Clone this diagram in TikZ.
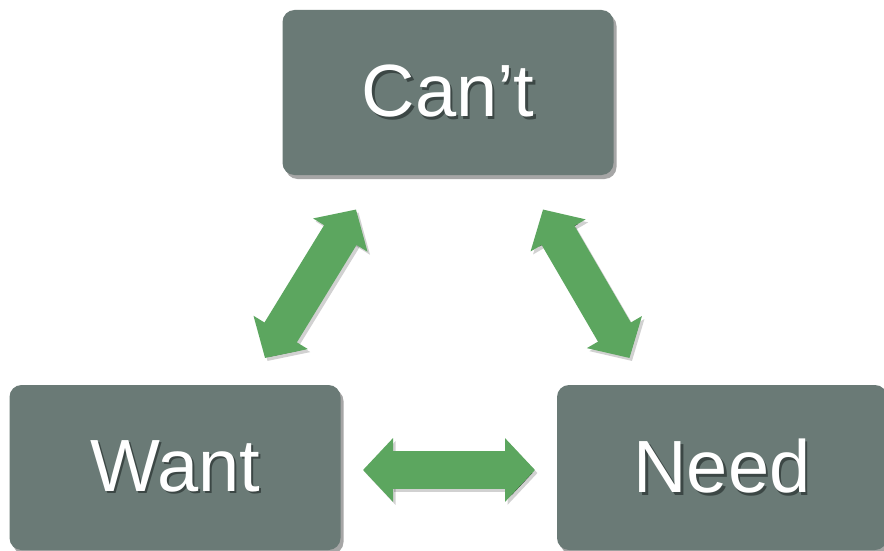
\documentclass[tikz,border=0pt]{standalone}
\usepackage{fontspec}
\setmainfont{Liberation Sans}
\usetikzlibrary{arrows.meta,shadows}
\definecolor{boxc}{HTML}{6A7A76}
\definecolor{arrc}{HTML}{5CA65F}
\definecolor{tshadow}{HTML}{3C4745}
\newcommand\shtext[1]{\makebox[0pt][l]{\kern2.5pt\raisebox{-2.5pt}{\textcolor{tshadow}{#1}}}#1}
\tikzset{
  termbox/.style={fill=boxc, rounded corners=12pt, minimum width=331pt, minimum height=165pt,
    inner sep=0pt, text=white, font=\fontsize{74}{80}\selectfont,
    drop shadow={shadow xshift=3pt, shadow yshift=-4pt, opacity=0.35, fill=black}},
  garrow/.style={draw=arrc, line width=38pt,
    {Triangle[width=62pt,length=30pt]}-{Triangle[width=62pt,length=30pt]}},
  gshadow/.style={draw=black, draw opacity=0.18, line width=38pt,
    {Triangle[width=62pt,length=30pt]}-{Triangle[width=62pt,length=30pt]},
    transform canvas={xshift=2.5pt,yshift=-3pt}}
}
\begin{document}
\begin{tikzpicture}[x=1pt,y=-1pt]
\useasboundingbox[fill=white] (0,0) rectangle (884,551);
\node[termbox] (cant) at (448,92.5) {\shtext{Can’t}};
\node[termbox] (want) at (175,467.5) {\shtext{Want}};
\node[termbox, minimum width=330pt] (need) at (722,467.5) {\shtext{Need}};
\coordinate (la) at (265,358);
\coordinate (lb) at (356,209.5);
\coordinate (ra) at (543,209.5);
\coordinate (rb) at (629.5,358);
\coordinate (ha) at (363,470);
\coordinate (hb) at (535,470);
\draw[gshadow] (la) -- (lb);
\draw[gshadow] (ra) -- (rb);
\draw[gshadow] (ha) -- (hb);
\draw[garrow] (la) -- (lb);
\draw[garrow] (ra) -- (rb);
\draw[garrow] (ha) -- (hb);
\end{tikzpicture}
\end{document}
